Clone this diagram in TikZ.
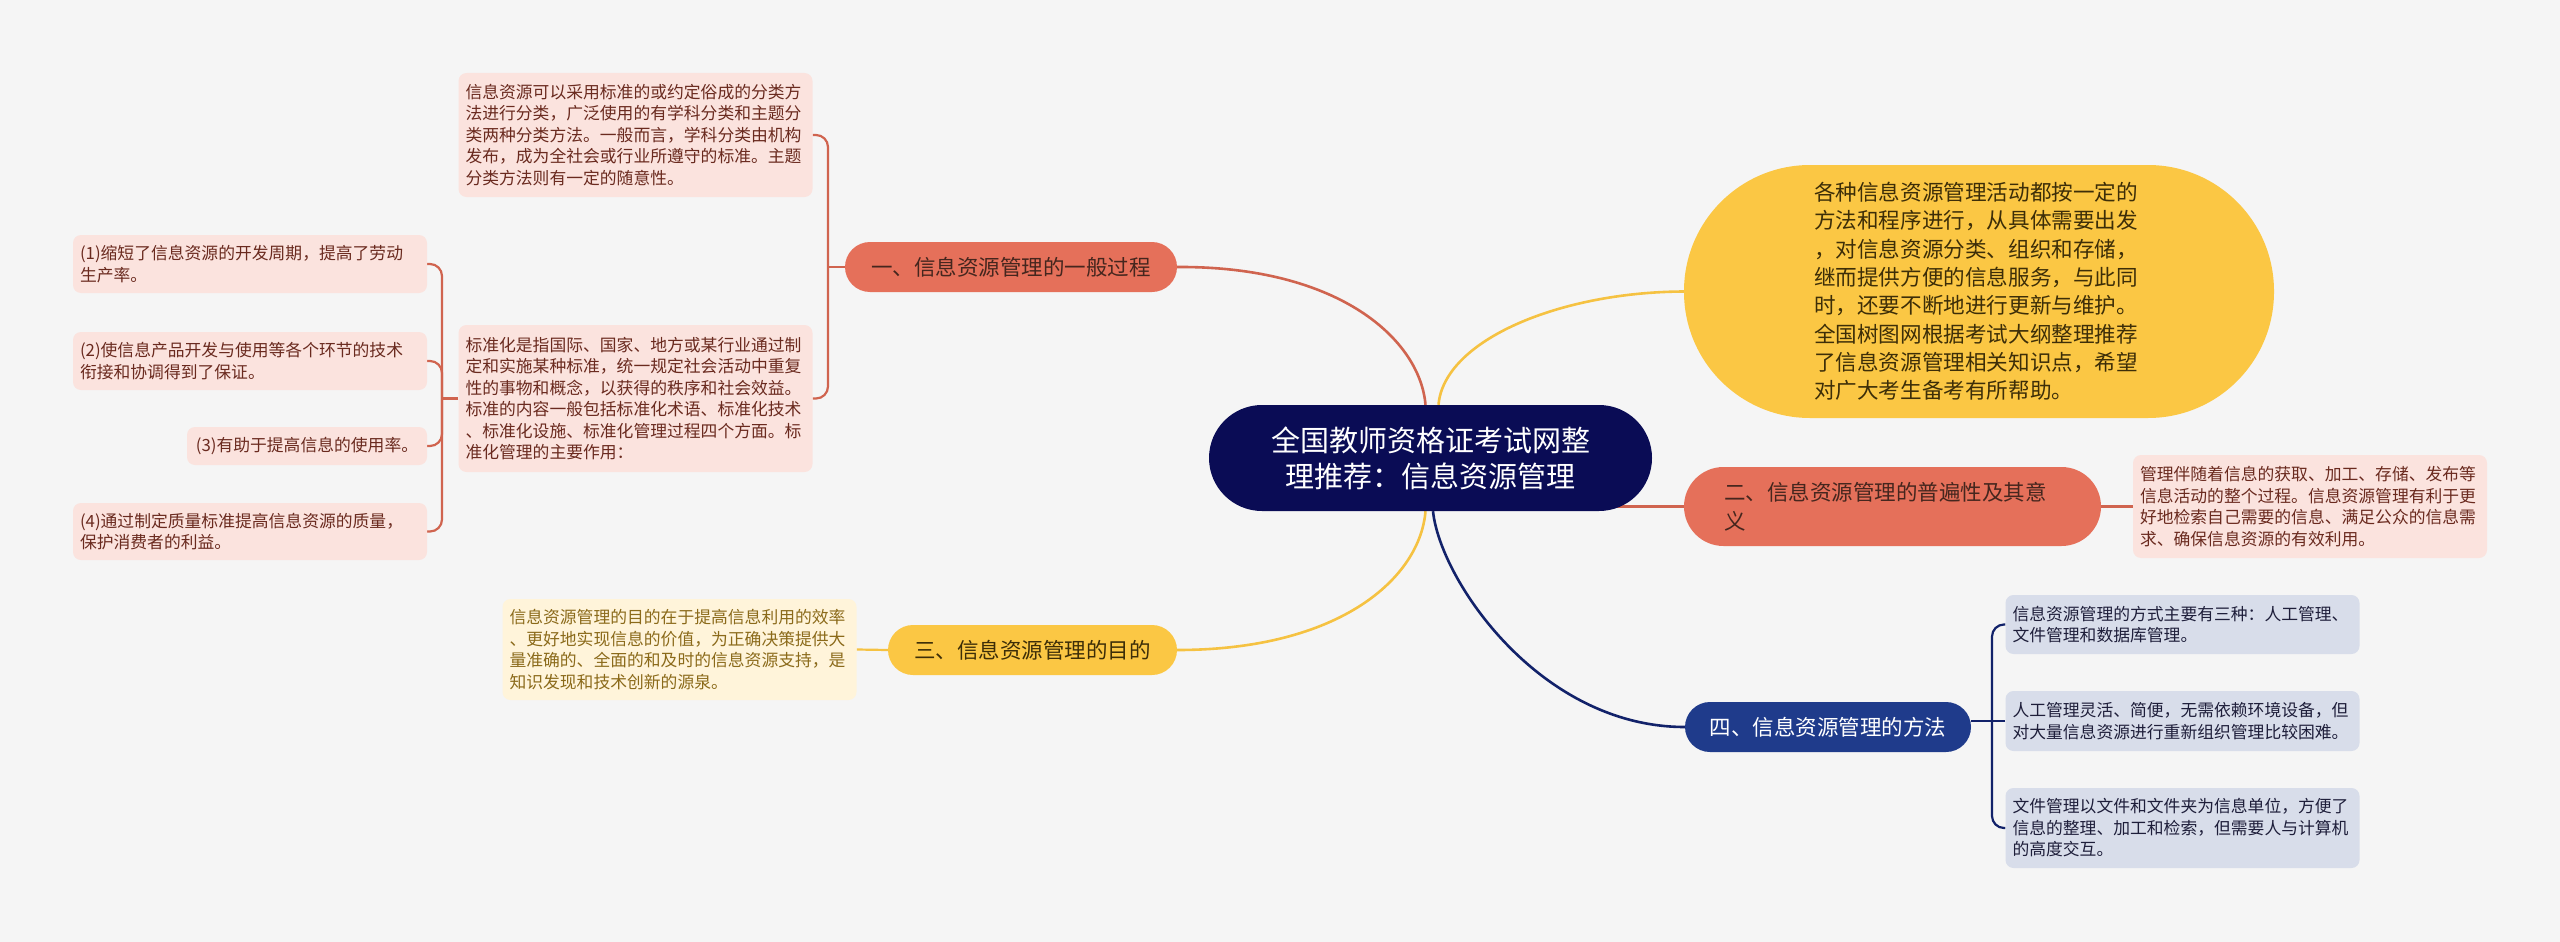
\documentclass[tikz,border=0pt]{standalone}
\usepackage{fontspec}
\setmainfont{Noto Sans CJK SC}
\usetikzlibrary{calc}
\pgfdeclarelayer{canvas}
\pgfdeclarelayer{bg}
\pgfsetlayers{canvas,bg,main}
\definecolor{bgc}{HTML}{F5F5F5}
\definecolor{rootc}{HTML}{0A0C55}
\definecolor{salmon}{HTML}{E5705A}
\definecolor{redline}{HTML}{D0644F}
\definecolor{gold}{HTML}{FBC744}
\definecolor{goldline}{HTML}{F5C242}
\definecolor{bluebr}{HTML}{1F3B8B}
\definecolor{blueline}{HTML}{12226A}
\definecolor{pinkleaf}{HTML}{FBE3DE}
\definecolor{pinktext}{HTML}{6A2A1F}
\definecolor{yleaf}{HTML}{FFF4DA}
\definecolor{ytext}{HTML}{8B6A1A}
\definecolor{bleaf}{HTML}{D8DDEA}
\definecolor{btext}{HTML}{1E1E3A}
\definecolor{redtext}{HTML}{45261E}
\definecolor{goldtext}{HTML}{3D2E08}
\begin{document}
\begin{tikzpicture}[x=1pt,y=-1pt,
  rootnode/.style={fill=rootc, text=white, rounded corners=53pt, minimum width=443pt, minimum height=106pt, inner sep=0pt, align=center, font=\fontsize{29}{36}\selectfont},
  branch/.style={rounded corners=25pt, minimum height=50pt, inner sep=0pt, font=\fontsize{21.5}{28.5}\selectfont},
  leafbase/.style={rounded corners=8pt, inner xsep=7pt, inner ysep=0pt, font=\fontsize{16.8}{21.5}\selectfont},
  leaf/.style={leafbase, text width=340pt, align=left},
  pinkl/.style={fill=pinkleaf, text=pinktext},
  bluel/.style={fill=bleaf, text=btext},
  main/.style={line width=2.6pt},
  brk/.style={line width=2.2pt, rounded corners=12pt}
]
\begin{pgfonlayer}{canvas}
\fill[bgc] (0,0) rectangle (2560,942);
\end{pgfonlayer}
\useasboundingbox (0,0) rectangle (2560,942);

% root
\node[rootnode] (root) at (1430.5,458) {全国教师资格证考试网整\\理推荐：信息资源管理};

% branches
\node[branch, fill=salmon, text=redtext, minimum width=332pt] (b1) at (1011,267) {一、信息资源管理的一般过程};
\node[branch, fill=gold, text=goldtext, minimum width=289pt] (b3) at (1032.5,650) {三、信息资源管理的目的};
\node[branch, fill=bluebr, text=white, minimum width=286pt] (b4) at (1828,727) {四、信息资源管理的方法};
\node[branch, fill=salmon, text=redtext, rounded corners=39.5pt, minimum height=79pt, text width=337pt, inner xsep=40pt, align=left] (b2) at (1892.5,506.5) {二、信息资源管理的普遍性及其意\\义};

% intro
\node[fill=gold, text=goldtext, rounded corners=126pt, minimum height=253pt, text width=330pt, inner xsep=130pt, inner ysep=0pt, align=left, font=\fontsize{21.6}{28.3}\selectfont] (intro) at (1979,291.5) {各种信息资源管理活动都按一定的\\方法和程序进行，从具体需要出发\\，对信息资源分类、组织和存储，\\继而提供方便的信息服务，与此同\\时，还要不断地进行更新与维护。\\全国树图网根据考试大纲整理推荐\\了信息资源管理相关知识点，希望\\对广大考生备考有所帮助。};

% leaves of branch 1
\node[leaf, pinkl, minimum height=124pt] (l1a) at (635.5,135) {信息资源可以采用标准的或约定俗成的分类方\\法进行分类，广泛使用的有学科分类和主题分\\类两种分类方法。一般而言，学科分类由机构\\发布，成为全社会或行业所遵守的标准。主题\\分类方法则有一定的随意性。};
\node[leaf, pinkl, minimum height=147pt] (l1b) at (635.5,398.5) {标准化是指国际、国家、地方或某行业通过制\\定和实施某种标准，统一规定社会活动中重复\\性的事物和概念，以获得的秩序和社会效益。\\标准的内容一般包括标准化术语、标准化技术\\、标准化设施、标准化管理过程四个方面。标\\准化管理的主要作用：};
\node[leaf, pinkl, minimum height=58pt] (s1) at (250,264) {(1)缩短了信息资源的开发周期，提高了劳动\\生产率。};
\node[leaf, pinkl, minimum height=58pt] (s2) at (250,361) {(2)使信息产品开发与使用等各个环节的技术\\衔接和协调得到了保证。};
\node[leafbase, pinkl, minimum width=240pt, minimum height=38pt] (s3) at (307,446) {(3)有助于提高信息的使用率。};
\node[leaf, pinkl, minimum height=57pt] (s4) at (250,531.5) {(4)通过制定质量标准提高信息资源的质量，\\保护消费者的利益。};

% leaf of branch 2
\node[leaf, pinkl, minimum height=103pt] (l2) at (2310,506.5) {管理伴随着信息的获取、加工、存储、发布等\\信息活动的整个过程。信息资源管理有利于更\\好地检索自己需要的信息、满足公众的信息需\\求、确保信息资源的有效利用。};

% leaf of branch 3
\node[leaf, fill=yleaf, text=ytext, minimum height=101pt] (l3) at (679.5,649.5) {信息资源管理的目的在于提高信息利用的效率\\、更好地实现信息的价值，为正确决策提供大\\量准确的、全面的和及时的信息资源支持，是\\知识发现和技术创新的源泉。};

% leaves of branch 4
\node[leaf, bluel, minimum height=59pt] (l4a) at (2182.5,624.5) {信息资源管理的方式主要有三种：人工管理、\\文件管理和数据库管理。};
\node[leaf, bluel, minimum height=60pt] (l4b) at (2182.5,721) {人工管理灵活、简便，无需依赖环境设备，但\\对大量信息资源进行重新组织管理比较困难。};
\node[leaf, bluel, minimum height=80pt] (l4c) at (2182.5,828) {文件管理以文件和文件夹为信息单位，方便了\\信息的整理、加工和检索，但需要人与计算机\\的高度交互。};

\coordinate (j1) at (828,267);
\coordinate (j2) at (442,398.5);
\coordinate (j4) at (1992,721);

\begin{pgfonlayer}{bg}
\draw[redline, main] ([xshift=-5pt]root.north) .. controls (1420,340) and (1340,266) .. (b1.east);
\draw[goldline, main] ([xshift=8pt]root.north) .. controls (1444,340) and (1560,292) .. (intro.west);
\draw[goldline, main] ([xshift=-5pt]root.south) .. controls (1420,578) and (1340,650) .. (b3.east);
\draw[blueline, main] ([xshift=2.5pt]root.south) .. controls (1440,580) and (1540,727) .. (b4.west);
\draw[redline, main] (b2.west) -- (b2.west -| root.center);

\draw[redline, brk] (b1.west) -- (j1);
\draw[redline, brk] (l1a.east) -| (j1) |- (l1b.east);
\draw[redline, brk] (l1b.west) -- (j2);
\draw[redline, brk] (s1.east) -| (j2) |- (s4.east);
\draw[redline, brk] (s2.east) -| (j2);
\draw[redline, brk] (s3.east) -| (j2);

\draw[redline, brk] (b2.east) -- (l2.west);
\draw[goldline, brk] (b3.west) -- (l3.east);

\draw[blueline, brk] (l4b.west) -- (l4b.west -| b4.east);
\draw[blueline, brk] (l4a.west) -| (j4) |- (l4c.west);
\end{pgfonlayer}
\end{tikzpicture}
\end{document}
